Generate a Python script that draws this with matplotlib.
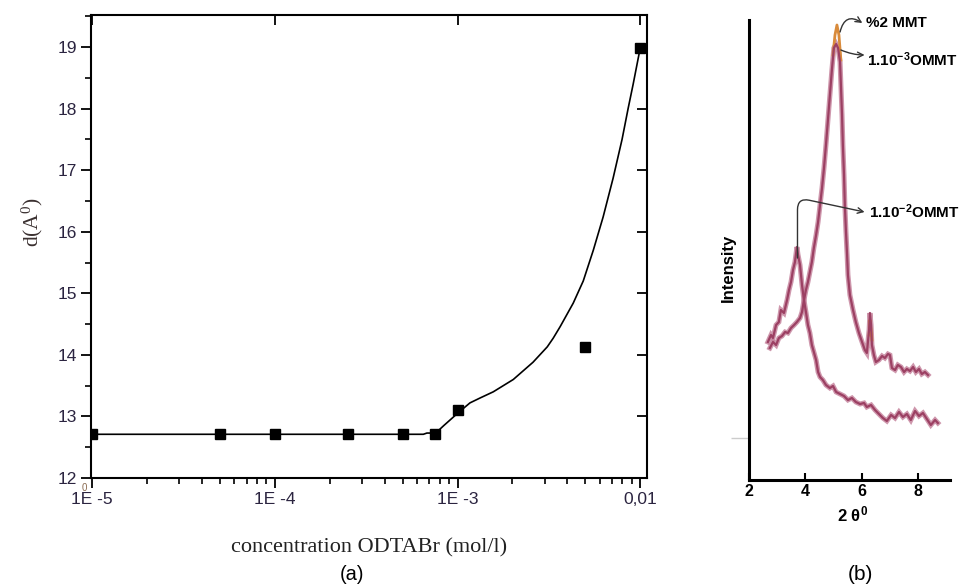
import numpy as np
import matplotlib
matplotlib.use('Agg')
import matplotlib.pyplot as plt
from matplotlib.ticker import FixedLocator, LogLocator, NullFormatter, MultipleLocator

plt.rcParams['font.family'] = ['Liberation Sans', 'DejaVu Sans']
plt.rcParams['mathtext.default'] = 'regular'

# (a) interlayer spacing vs ODTABr concentration
conc = [1e-5, 5e-5, 1e-4, 2.5e-4, 5e-4, 7.5e-4, 1e-3, 5e-3, 1e-2]
d_spacing = [12.71, 12.71, 12.71, 12.71, 12.71, 12.71, 13.10, 14.13, 18.98]

fit_conc = [1e-5, 6.5e-4, 6.8e-4, 7.6e-4, 8.4e-4, 1.0e-3, 1.17e-3, 1.33e-3, 1.57e-3,
            2.02e-3, 2.59e-3, 3.10e-3, 3.34e-3, 3.65e-3, 4.30e-3, 4.88e-3, 5.54e-3,
            6.27e-3, 7.11e-3, 7.96e-3, 8.59e-3, 9.16e-3, 1e-2]
fit_d = [12.71, 12.71, 12.73, 12.73, 12.85, 13.05, 13.22, 13.30, 13.40,
         13.60, 13.88, 14.13, 14.27, 14.46, 14.84, 15.20, 15.70,
         16.24, 16.87, 17.50, 18.00, 18.40, 18.98]

x_ticks = [1e-5, 1e-4, 1e-3, 1e-2]
x_ticklabels = ['1E -5', '1E -4', '1E -3', '0,01']

# (b) XRD patterns, intensity in arbitrary units
tt_1e2 = [2.67, 2.78, 2.85, 2.96, 3.06, 3.13, 3.24, 3.35, 3.42, 3.49, 3.56, 3.63, 3.70,
          3.74, 3.81, 3.88, 3.95, 4.02, 4.09, 4.16, 4.23, 4.30, 4.38, 4.45, 4.52, 4.62,
          4.73, 4.87, 4.98, 5.09, 5.23, 5.37, 5.51, 5.65, 5.79, 5.94, 6.08, 6.18, 6.33,
          6.47, 6.61, 6.75, 6.89, 7.04, 7.18, 7.32, 7.46, 7.60, 7.74, 7.89, 8.03, 8.17,
          8.31, 8.45, 8.60, 8.70]
int_1e2 = [138, 145, 142, 155, 158, 170, 167, 180, 190, 198, 210, 218, 233,
           225, 215, 195, 180, 168, 155, 147, 135, 128, 120, 108, 103, 100,
           95, 92, 94, 88, 86, 84, 80, 82, 78, 76, 77, 73, 75,
           70, 66, 62, 59, 65, 62, 68, 63, 66, 60, 69, 64, 67,
           61, 55, 60, 57]

tt_1e3 = [2.74, 2.85, 2.96, 3.06, 3.17, 3.28, 3.38, 3.49, 3.60, 3.70, 3.81, 3.88, 3.95,
          4.02, 4.09, 4.16, 4.23, 4.30, 4.38, 4.45, 4.52, 4.59, 4.66, 4.73, 4.80, 4.87,
          4.94, 5.01, 5.09, 5.16, 5.23, 5.26, 5.30, 5.33, 5.37, 5.40, 5.44, 5.48, 5.51,
          5.58, 5.69, 5.79, 5.90, 6.01, 6.11, 6.18, 6.26, 6.29, 6.33, 6.36, 6.43, 6.50,
          6.61, 6.72, 6.82, 6.93, 7.00, 7.07, 7.18, 7.28, 7.39, 7.50, 7.60, 7.71, 7.82,
          7.92, 8.03, 8.13, 8.24, 8.35]
int_1e3 = [132, 138, 135, 142, 144, 148, 147, 152, 155, 158, 162, 168, 180,
           190, 198, 208, 218, 232, 245, 258, 275, 292, 312, 335, 360, 385,
           410, 432, 436, 432, 418, 395, 365, 335, 305, 275, 248, 225, 205,
           185, 170, 158, 147, 138, 130, 127, 150, 167, 155, 135, 125, 118,
           120, 124, 122, 126, 125, 112, 110, 115, 113, 108, 111, 109, 113,
           108, 111, 106, 108, 105]

# %2 MMT is only visible where it rises above the other traces
tt_mmt = [4.98, 5.05, 5.12, 5.19, 5.26, np.nan, 6.26, 6.29, 6.33, 6.36]
int_mmt = [425, 445, 455, 445, 420, np.nan, 145, 160, 150, 140]

W, H = 969, 587
fig = plt.figure(figsize=(W / 100, H / 100), dpi=100)

# ---------- panel (a)
ax = fig.add_axes([91 / W, 1 - 478 / H, (647 - 91) / W, (478 - 15) / H])
ax.set_xscale('log')
ax.plot(fit_conc, fit_d, color='black', lw=1.2, zorder=2)
ax.plot(conc, d_spacing, 's', color='black', ms=7, zorder=3)
ax.set_xlim(0.985e-5, 1.09e-2)
ax.set_ylim(12, 19.52)
ax.xaxis.set_major_locator(FixedLocator(x_ticks))
ax.set_xticklabels(x_ticklabels)
ax.xaxis.set_minor_locator(LogLocator(base=10, subs=np.arange(2, 10)))
ax.xaxis.set_minor_formatter(NullFormatter())
ax.yaxis.set_major_locator(MultipleLocator(1))
ax.yaxis.set_minor_locator(MultipleLocator(0.5))
ax.tick_params(which='major', direction='out', length=7, width=1.3, labelsize=12.5,
               labelcolor='#2b2440', pad=3)
ax.tick_params(which='minor', direction='out', length=4, width=1.2)
for s in ax.spines.values():
    s.set_linewidth(1.5)

# inward ticks on top and right
ax2 = fig.add_axes(ax.get_position(), frameon=False)
ax2.set_xscale('log')
ax2.set_xlim(ax.get_xlim())
ax2.set_ylim(ax.get_ylim())
ax2.xaxis.set_major_locator(FixedLocator(x_ticks))
ax2.xaxis.set_minor_locator(plt.NullLocator())
ax2.yaxis.set_major_locator(MultipleLocator(1))
ax2.tick_params(direction='in', length=7, width=1.3, top=True, right=True,
                bottom=False, left=False, labelbottom=False, labelleft=False)

fig.text(32 / W, 1 - 222 / H, 'd(A$^0$)', rotation=90, ha='center', va='center',
         family=['Liberation Serif', 'DejaVu Serif'], fontsize=15.5, color='#3a3030')
fig.text(369 / W, 1 - 548 / H, 'concentration ODTABr (mol/l)', ha='center', va='center',
         family=['Liberation Serif', 'DejaVu Serif'], fontsize=16, color='#222222')
fig.text(352 / W, 1 - 575 / H, '(a)', ha='center', va='center', fontsize=14.5)
fig.text(84 / W, 1 - 488 / H, '0', ha='center', va='center', fontsize=7, color='#8a6a50')

# ---------- panel (b)
bx = fig.add_axes([749 / W, 1 - 480 / H, (950 - 749) / W, (480 - 20) / H])
for tt, ii in [(tt_1e2, int_1e2), (tt_1e3, int_1e3)]:
    bx.plot(tt, ii, color='#c27d98', lw=3.6, alpha=0.8, solid_joinstyle='miter')
bx.plot(tt_mmt, int_mmt, color='#d98b3c', lw=2.0)
for tt, ii in [(tt_1e2, int_1e2), (tt_1e3, int_1e3)]:
    bx.plot(tt, ii, color='#9c4063', lw=1.6)
bx.set_xlim(2, 9.13)
bx.set_ylim(0, 460)
bx.spines['top'].set_visible(False)
bx.spines['right'].set_visible(False)
bx.spines['left'].set_linewidth(2.2)
bx.spines['bottom'].set_linewidth(2.2)
bx.set_xticks([2, 4, 6, 8])
bx.set_xticklabels(['2', '4', '6', '8'], fontweight='bold')
bx.tick_params(axis='x', direction='in', length=5, width=1.5, labelsize=11.5, pad=3)
bx.set_yticks([42])
bx.tick_params(axis='y', direction='out', length=13, width=1, color='#cccccc',
               labelleft=False)

arrow_kw = dict(arrowstyle='->', color='#333333', lw=1.0, shrinkA=0, shrinkB=0)
bx.annotate('', xy=(6.02, 457), xytext=(5.23, 448), annotation_clip=False,
            arrowprops=dict(connectionstyle='arc3,rad=-0.7', **arrow_kw))
bx.text(6.15, 457, '%2 MMT', fontsize=11, fontweight='bold', va='center', ha='left',
        clip_on=False)
bx.annotate('', xy=(6.1, 425), xytext=(5.26, 430), annotation_clip=False,
            arrowprops=dict(connectionstyle='arc3,rad=0.1', **arrow_kw))
bx.text(6.2, 420, '1.10$^{-3}$OMMT', fontsize=11, fontweight='bold', va='center',
        ha='left', clip_on=False)
bx.annotate('', xy=(6.1, 268), xytext=(3.72, 222), annotation_clip=False,
            arrowprops=dict(connectionstyle='angle,angleA=90,angleB=-12,rad=12', **arrow_kw))
bx.text(6.25, 268, '1.10$^{-2}$OMMT', fontsize=11, fontweight='bold', va='center',
        ha='left', clip_on=False)

fig.text(728 / W, 1 - 268 / H, 'Intensity', rotation=90, ha='center', va='center',
         fontsize=12, fontweight='bold')
fig.text(853 / W, 1 - 514 / H, '2 θ$^0$', ha='center', va='center', fontsize=12,
         fontweight='bold')
fig.text(860 / W, 1 - 574 / H, '(b)', ha='center', va='center', fontsize=15)

fig.savefig('out.png', dpi=100)
